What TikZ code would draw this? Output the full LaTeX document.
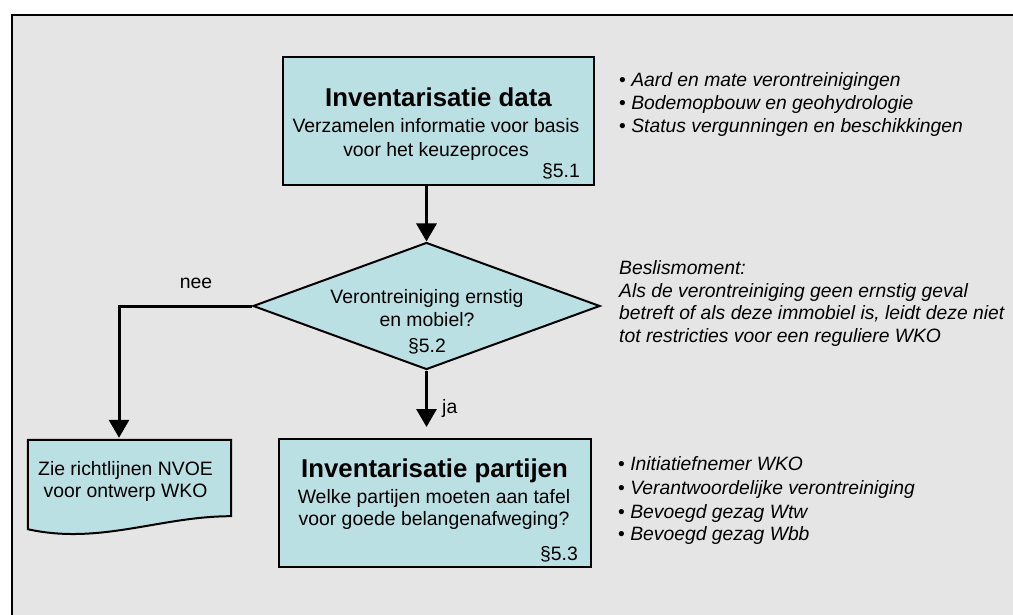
\documentclass[tikz,border=0pt]{standalone}
\usepackage{fontspec}
\setmainfont{Liberation Sans}
\usetikzlibrary{shapes.geometric,arrows.meta}
\definecolor{boxfill}{RGB}{187,224,228}
\definecolor{bggray}{RGB}{229,229,229}
\begin{document}
\begin{tikzpicture}[x=1pt,y=-1pt,
  procbox/.style={draw=black, fill=boxfill, line width=2pt, inner sep=0pt},
  decision/.style={diamond, draw=black, fill=boxfill, line width=2pt, inner sep=0pt, minimum width=347pt, minimum height=127pt},
  title/.style={inner sep=0pt, anchor=base, font=\fontsize{25.8}{30}\selectfont\bfseries},
  body/.style={inner sep=0pt, anchor=base, font=\fontsize{19.4}{23}\selectfont},
  note/.style={inner sep=0pt, anchor=base west, font=\fontsize{19.3}{23}\selectfont\itshape},
  conn/.style={line width=3pt},
  arr/.style={line width=3pt, -{Triangle[width=20pt,length=18pt]}}
]
\useasboundingbox (0,0) rectangle (1013,615);
\fill[bggray] (12,15) rectangle (1013,615);
\draw[line width=2.5pt] (12,615) -- (12,15) -- (1013,15);

% top box
\node[procbox, minimum width=311pt, minimum height=128pt] (data) at (438.5,121) {};
\node[title] (datat) at (438.5,107) {Inventarisatie data};
\node[body] (data1) at (436,133) {Verzamelen informatie voor basis};
\node[body] (data2) at (436,157) {voor het keuzeproces};
\node[body, anchor=base east] (data3) at (580,178) {§5.1};

% decision
\node[decision] (dec) at (426.5,306) {};
\node[body] (dec1) at (427,303) {Verontreiniging ernstig};
\node[body] (dec2) at (427,326) {en mobiel?};
\node[body] (dec3) at (427,352) {§5.2};

% bottom box
\node[procbox, minimum width=312pt, minimum height=128pt] (ppl) at (435,503) {};
\node[title] (pplt) at (434.5,477) {Inventarisatie partijen};
\node[body] (ppl1) at (434,503) {Welke partijen moeten aan tafel};
\node[body] (ppl2) at (434,525) {voor goede belangenafweging?};
\node[body, anchor=base east] (ppl3) at (578,560) {§5.3};

% document shape
\node[inner sep=0pt, minimum width=203pt, minimum height=76pt] (doc) at (129.5,478) {};
\draw[procbox] (doc.north west) -- (doc.north east) -- (doc.south east)
  .. controls +(-71,0) and +(72,16) .. ([yshift=-13pt]doc.south west) -- cycle;
\node[body] (doc1) at (125.5,475) {Zie richtlijnen NVOE};
\node[body] (doc2) at (125.5,497) {voor ontwerp WKO};

% connectors
\draw[arr] (dec.north |- data.south) -- (dec.north);
\draw[arr, shorten >=11pt] (dec.south) -- (dec.south |- ppl.north);
\node[body, anchor=base west] (ja) at (442,413) {ja};
\coordinate (nc) at (119,306);
\draw[conn] (dec.west) -- (nc);
\draw[arr, shorten >=2pt] ([yshift=1.5pt]nc) -- (nc |- doc.north);
\node[body] (nee) at (196,288) {nee};

% notes
\node[note] (n1) at (619,87) {{\upshape •} Aard en mate verontreinigingen};
\node[note] (n2) at (619,110) {{\upshape •} Bodemopbouw en geohydrologie};
\node[note] (n3) at (619,133) {{\upshape •} Status vergunningen en beschikkingen};

\node[note] (b1) at (619,274) {Beslismoment:};
\node[note] (b2) at (619,297) {Als de verontreiniging geen ernstig geval};
\node[note] (b3) at (619,319) {betreft of als deze immobiel is, leidt deze niet};
\node[note] (b4) at (619,342) {tot restricties voor een reguliere WKO};

\node[note] (p1) at (618,470) {{\upshape •} Initiatiefnemer WKO};
\node[note] (p2) at (618,494) {{\upshape •} Verantwoordelijke verontreiniging};
\node[note] (p3) at (618,518) {{\upshape •} Bevoegd gezag Wtw};
\node[note] (p4) at (618,540) {{\upshape •} Bevoegd gezag Wbb};
\end{tikzpicture}
\end{document}
